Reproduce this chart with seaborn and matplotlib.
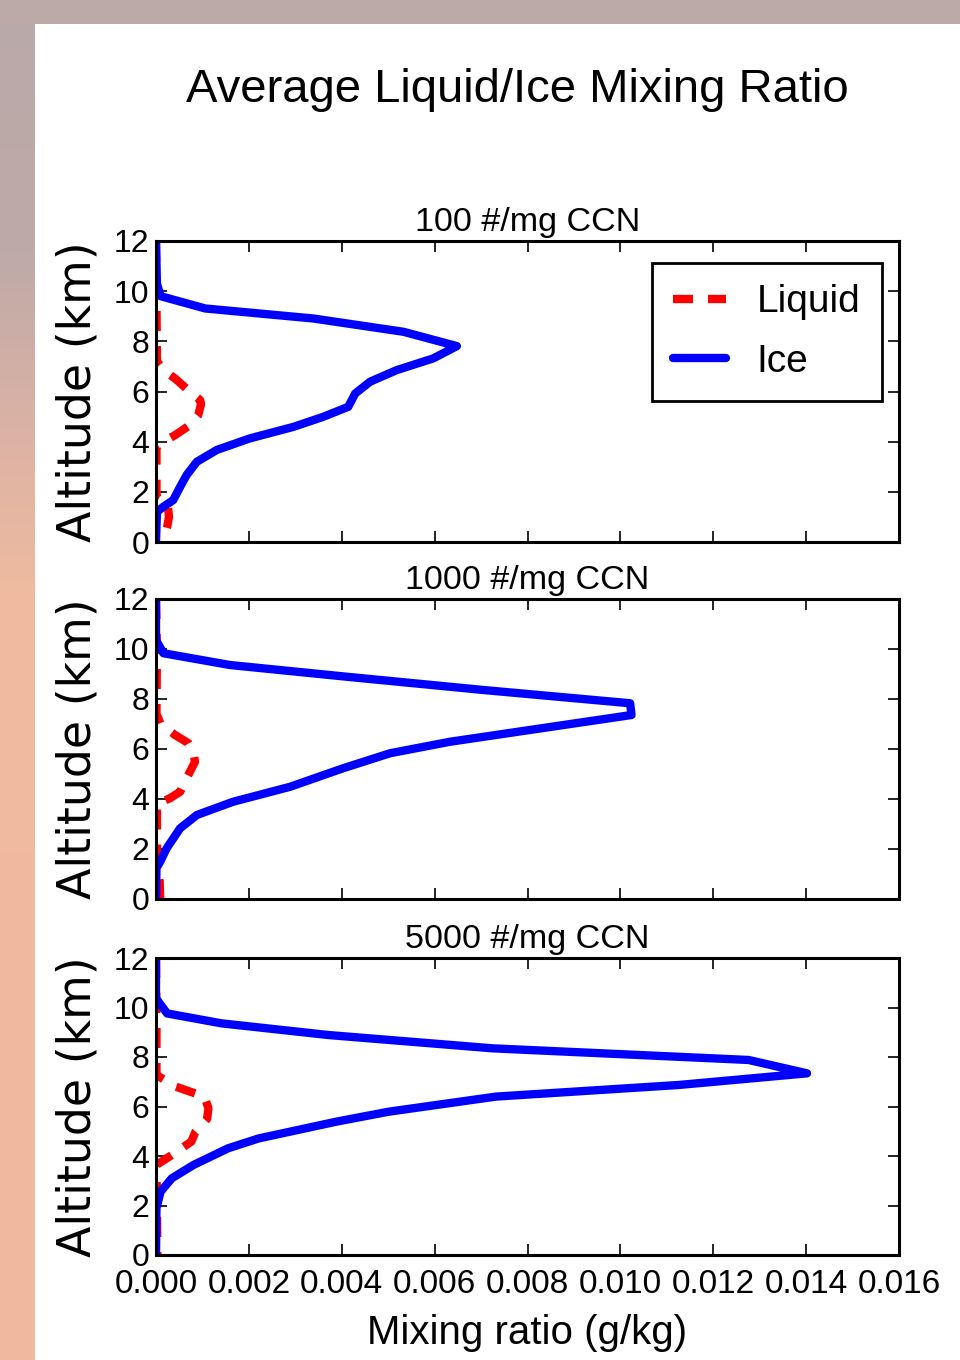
import numpy as np
import pandas as pd
import seaborn as sns
import matplotlib.pyplot as plt

# ---- data (altitude in km, mixing ratio in g/kg) ----
panel_titles = ['100 #/mg CCN', '1000 #/mg CCN', '5000 #/mg CCN']
xticks = [0.000, 0.002, 0.004, 0.006, 0.008, 0.010, 0.012, 0.014, 0.016]
yticks = [0, 2, 4, 6, 8, 10, 12]

alt_ice_100 = [12.0, 10.3, 9.8, 9.31, 8.91, 8.38, 7.81, 7.32, 6.85, 6.39, 5.92,
               5.39, 4.99, 4.59, 4.13, 3.67, 3.20, 2.67, 2.20, 1.67, 1.41, 1.2, 0.0]
ice_100 = [0.0, 0.00002, 0.0001, 0.00106, 0.00339, 0.00533, 0.00648, 0.00597,
           0.00518, 0.00461, 0.00429, 0.00414, 0.00360, 0.00296, 0.00202, 0.00131,
           0.00088, 0.00066, 0.00052, 0.00037, 0.00016, 0.00002, 0.0]
alt_liq_100 = [12.0, 7.2, 6.79, 6.52, 5.99, 5.66, 5.5, 5.06, 4.66, 4.26, 4.0, 3.8,
               1.8, 1.55, 1.0, 0.6, 0.0]
liq_100 = [0.0, 0.00002, 0.0002, 0.00041, 0.00073, 0.00095, 0.00097, 0.00091,
           0.00073, 0.00041, 0.00016, 0.00001, 0.00001, 0.00025, 0.00028, 0.00024,
           0.00015]

alt_ice_1000 = [12.0, 10.36, 9.83, 9.36, 8.89, 8.36, 7.83, 7.36, 6.29, 5.83, 5.23,
                4.49, 3.89, 3.36, 2.83, 2.03, 1.49, 1.24, 0.0]
ice_1000 = [0.0, 0.0, 0.00016, 0.00159, 0.00411, 0.00705, 0.01021, 0.01024, 0.00633,
            0.00504, 0.00403, 0.00289, 0.00166, 0.00088, 0.00052, 0.00023, 0.00009,
            0.00001, 0.0]
alt_liq_1000 = [12.0, 10.0, 7.4, 7.0, 6.56, 6.23, 5.9, 5.49, 4.83, 4.29, 4.03, 3.8,
                1.5, 0.7, 0.0]
liq_1000 = [0.0, 0.00002, 0.00001, 0.0001, 0.00041, 0.0007, 0.0008, 0.00084,
            0.00066, 0.00052, 0.0003, 0.00002, 0.00002, 0.00008, 0.00009]

alt_ice_5000 = [12.0, 10.37, 9.76, 9.36, 8.89, 8.35, 7.88, 7.34, 6.87, 6.40, 5.79,
                5.39, 4.71, 4.31, 3.64, 3.10, 2.56, 1.9, 0.0]
ice_5000 = [0.0, 0.0, 0.00024, 0.00141, 0.0037, 0.00725, 0.01276, 0.01402, 0.01126,
            0.00732, 0.00501, 0.00389, 0.00221, 0.00155, 0.00081, 0.00034, 0.0001,
            0.00001, 0.0]
alt_liq_5000 = [12.0, 9.3, 7.27, 6.80, 6.40, 5.93, 5.5, 4.98, 4.58, 4.04, 3.64, 2.0, 0.0]
liq_5000 = [0.0, 0.00001, 0.00001, 0.00043, 0.00104, 0.00113, 0.0011, 0.00085,
            0.00076, 0.00034, 0.00001, 0.00002, 0.00003]

liquid = [(alt_liq_100, liq_100), (alt_liq_1000, liq_1000), (alt_liq_5000, liq_5000)]
ice = [(alt_ice_100, ice_100), (alt_ice_1000, ice_1000), (alt_ice_5000, ice_5000)]

# ---- style ----
sns.set_style('ticks')
plt.rcParams['font.family'] = ['Liberation Sans', 'DejaVu Sans']
for key in ['text.color', 'axes.labelcolor', 'xtick.color', 'ytick.color',
            'axes.edgecolor']:
    plt.rcParams[key] = 'black'
plt.rcParams['axes.linewidth'] = 2.2

fig = plt.figure(figsize=(9.6, 13.6), dpi=100)

# page background: grey-pink strip on top, salmon gradient on the left
bg = fig.add_axes([0, 0, 1, 1], zorder=-10)
ys = np.linspace(0, 1360, 200)
stop_y = [0, 250, 420, 600, 1360]
stop_c = np.array([[185, 169, 169], [190, 170, 168], [218, 178, 165],
                   [240, 187, 160], [240, 184, 157]]) / 255
grad = np.stack([np.interp(ys, stop_y, stop_c[:, k]) for k in range(3)], axis=-1)
bg.imshow(grad[:, None, :], extent=[0, 35, 1360, 0], aspect='auto')
bg.add_patch(plt.Rectangle((0, 0), 960, 24, color='#bcaaa9', lw=0))
bg.add_patch(plt.Rectangle((35, 24), 925, 1336, color='white', lw=0))
bg.set_xlim(0, 960)
bg.set_ylim(1360, 0)
bg.axis('off')

rects = [[156 / 960, 1 - 542 / 1360, 743 / 960, 301 / 1360],
         [156 / 960, 1 - 899 / 1360, 743 / 960, 300 / 1360],
         [156 / 960, 1 - 1255 / 1360, 743 / 960, 297 / 1360]]

dash = (0, (2.4, 1.8))
for i, rect in enumerate(rects):
    ax = fig.add_axes(rect)
    la, lv = liquid[i]
    ia, iv = ice[i]
    sns.lineplot(x=lv, y=la, ax=ax, sort=False, estimator=None, color='red',
                 lw=6, linestyle=dash, label='Liquid')
    sns.lineplot(x=iv, y=ia, ax=ax, sort=False, estimator=None, color='blue',
                 lw=6, label='Ice')
    ax.set_xlim(0, 0.016)
    ax.set_ylim(0, 12)
    ax.set_xticks(xticks)
    ax.set_yticks(yticks)
    ax.set_title(panel_titles[i], fontsize=24.5, pad=7)
    ax.set_ylabel('Altitude (km)', family='DejaVu Sans', fontsize=33)
    ax.yaxis.set_label_coords(-0.075, 0.5)
    ax.tick_params(direction='in', length=8, width=1.2, top=True, right=True,
                   color='black')
    ax.tick_params(axis='y', pad=5, labelsize=23)
    ax.tick_params(axis='x', pad=10, labelsize=24)
    if i < 2:
        ax.tick_params(labelbottom=False)
        ax.set_xlabel('')
    else:
        ax.set_xticklabels([f'{t:.3f}' for t in xticks])
        ax.set_xlabel('Mixing ratio (g/kg)', fontsize=29)
        ax.xaxis.set_label_coords(0.5, -0.2)
    if i == 0:
        leg = ax.legend(loc='upper right', bbox_to_anchor=(0.977, 0.927),
                        borderaxespad=0, fontsize=28, handlelength=1.35,
                        handletextpad=0.8, labelspacing=0.6, borderpad=0.55,
                        fancybox=False, framealpha=1)
        leg.get_frame().set_edgecolor('black')
        leg.get_frame().set_linewidth(2)
    else:
        ax.get_legend().remove()

fig.text(517 / 960, 1 - 90 / 1360, 'Average Liquid/Ice Mixing Ratio',
         ha='center', va='center', fontsize=34)

fig.savefig('out.png', dpi=100)
